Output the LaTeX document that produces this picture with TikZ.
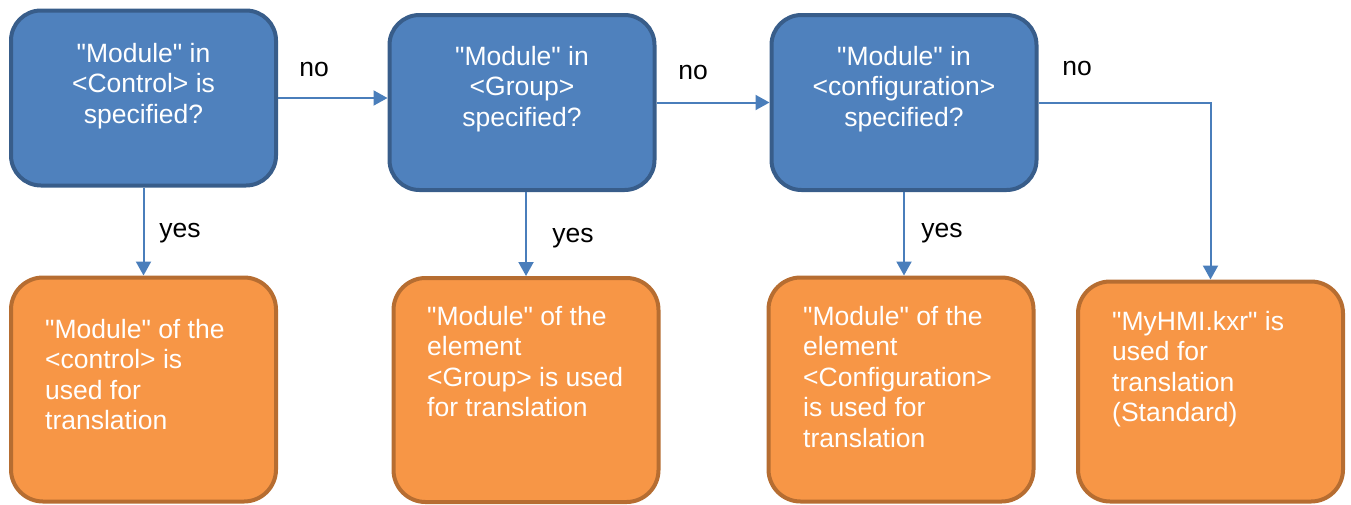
\documentclass[tikz,border=0pt]{standalone}
\usepackage{fontspec}
\setmainfont{Liberation Sans}[Ligatures=TeXOff]
\usetikzlibrary{arrows.meta}
\definecolor{qfill}{HTML}{4F81BD}
\definecolor{qline}{HTML}{385D8A}
\definecolor{rfill}{HTML}{F79646}
\definecolor{rline}{HTML}{B66D31}
\definecolor{flowblue}{HTML}{4A7EBB}
\tikzset{
  question/.style={draw=qline, fill=qfill, line width=4pt, rounded corners=30pt,
    minimum width=265pt, minimum height=175pt, inner sep=0pt},
  result/.style={draw=rline, fill=rfill, line width=4pt, rounded corners=32pt,
    minimum width=265pt, minimum height=224pt, inner sep=0pt},
  boxtext/.style={text=white, inner sep=0pt, font=\fontsize{26.5}{30.5}\selectfont},
  edgetext/.style={text=black, inner sep=0pt, font=\fontsize{26.5}{30.5}\selectfont},
  flow/.style={draw=flowblue, line width=2pt, -{Triangle[length=14pt,width=15pt]}}
}
\begin{document}
\begin{tikzpicture}[x=1pt, y=-1pt]
      \useasboundingbox (0,0) rectangle (1351,504);
      % questions
      \node[question] (q1) at (143.5,98) {};
      \node[question] (q2) at (522,102.5) {};
      \node[question] (q3) at (904,102.5) {};
      \node[boxtext, anchor=north, align=center] (q1t) at (143.5,43) {"Module" in\\<Control> is\\specified?};
      \node[boxtext, anchor=north, align=center] (q2t) at (522,46) {"Module" in\\<Group>\\specified?};
      \node[boxtext, anchor=north, align=center] (q3t) at (904,46) {"Module" in\\<configuration>\\specified?};
      % results
      \node[result] (r1) at (143.5,389.5) {};
      \node[result] (r2) at (526,390) {};
      \node[result] (r3) at (901,389.5) {};
      \node[result, minimum height=220pt] (r4) at (1210.5,391.5) {};
      \node[boxtext, anchor=north west, align=left] (r1t) at (45,319) {"Module" of the\\<control> is\\used for\\translation};
      \node[boxtext, anchor=north west, align=left] (r2t) at (427,306) {"Module" of the\\element\\<Group> is used\\for translation};
      \node[boxtext, anchor=north west, align=left] (r3t) at (803,306) {"Module" of the\\element\\<Configuration>\\is used for\\translation};
      \node[boxtext, anchor=north west, align=left] (r4t) at (1112,311) {"MyHMI.kxr" is\\used for\\translation\\(Standard)};
      % no
      \draw[flow] (q1.east) -- (q1.east -| q2.west);
      \draw[flow] (q2.east) -- (q3.west);
      \draw[flow] (q3.east) -| (r4.north);
      % yes
      \draw[flow] (q1.south) -- (r1.north);
      \draw[flow] (r2.north |- q2.south) -- (r2.north);
      \draw[flow] (q3.south) -- (q3.south |- r3.north);
      \node[edgetext] (no1) at (314,69) {no};
      \node[edgetext] (no2) at (693,72) {no};
      \node[edgetext] (no3) at (1077,68) {no};
      \node[edgetext] (yes1) at (180,233) {yes};
      \node[edgetext] (yes2) at (573,238) {yes};
      \node[edgetext] (yes3) at (942,233) {yes};
\end{tikzpicture}
\end{document}
